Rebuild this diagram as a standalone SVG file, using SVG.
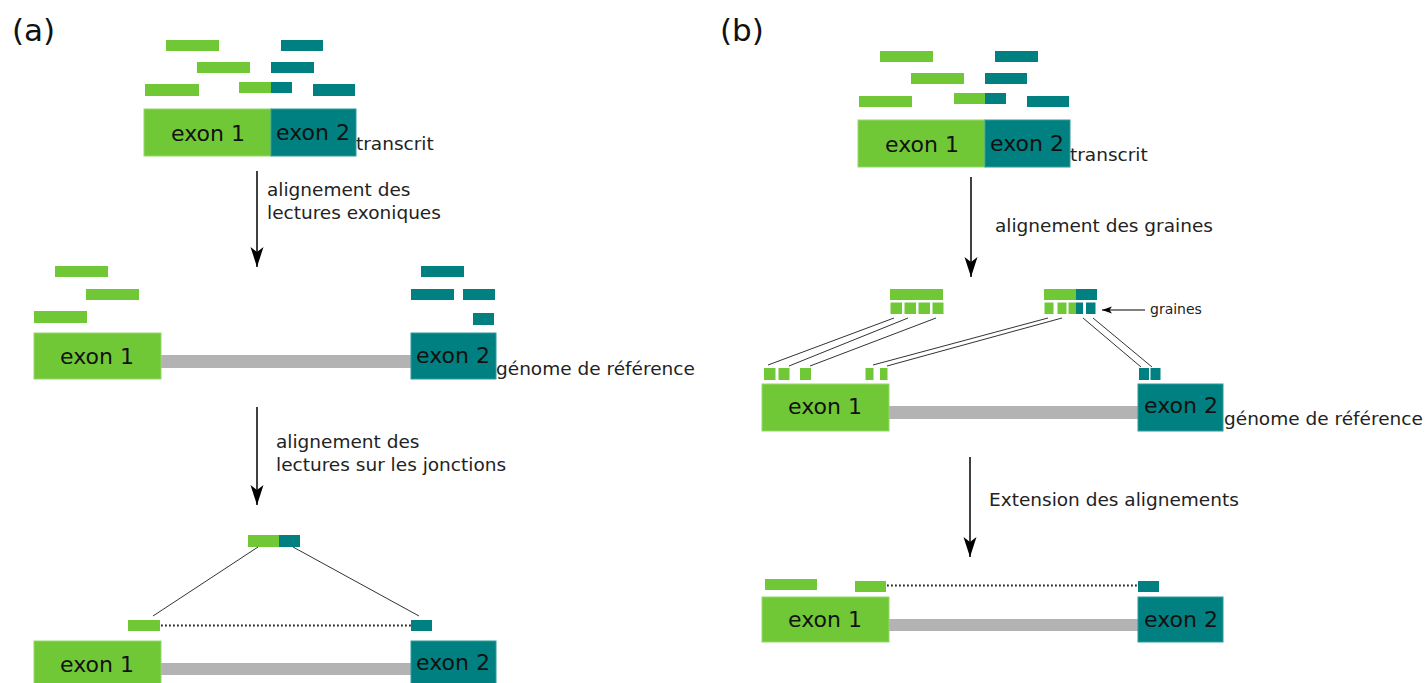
<svg xmlns="http://www.w3.org/2000/svg" width="1426" height="683" viewBox="0 0 1426 683">
<defs>
<style>
.g{fill:#71c837}
.t{fill:#008080}
.gb{fill:#71c837;stroke:#95d86a;stroke-width:1}
.tb{fill:#008080;stroke:#2f9a9a;stroke-width:1}
.bar{fill:#b3b3b3}
.ex{font-family:"DejaVu Sans",sans-serif;font-size:22px;fill:#111;text-anchor:middle}
.lb{font-family:"DejaVu Sans",sans-serif;font-size:18.5px;fill:#222}
.sm{font-family:"DejaVu Sans",sans-serif;font-size:14px;fill:#222}
.pl{font-family:"DejaVu Sans",sans-serif;font-size:31px;fill:#111}
.arr{stroke:#000;stroke-width:1.5;fill:none;marker-end:url(#ah)}
.ln{stroke:#333;stroke-width:1;fill:none}
.dot{stroke:#222;stroke-width:1.8;stroke-dasharray:1.8 2.2;fill:none}
</style>
<marker id="ah" markerUnits="userSpaceOnUse" markerWidth="24" markerHeight="16" viewBox="-21 -8 22 16" refX="0" refY="0" orient="auto">
<path d="M0,0 L-20,-6.5 L-15,0 L-20,6.5 Z" fill="#000"/>
</marker>
<marker id="ahs" markerUnits="userSpaceOnUse" markerWidth="12" markerHeight="10" viewBox="-11 -5 12 10" refX="0" refY="0" orient="auto">
<path d="M0,0 L-10,-3.5 L-7.5,0 L-10,3.5 Z" fill="#000"/>
</marker>
</defs>

<text class="pl" x="12" y="41">(a)</text>
<text class="pl" x="720" y="41">(b)</text>

<!-- Panel (a) -->
<g id="a-reads-top">
<rect class="g" x="166" y="40" width="53" height="11"/>
<rect class="t" x="281" y="40" width="42" height="11"/>
<rect class="g" x="197" y="62" width="53" height="11"/>
<rect class="t" x="271" y="62" width="43" height="11"/>
<rect class="g" x="145" y="84" width="54" height="12"/>
<rect class="g" x="239" y="82" width="32" height="11"/>
<rect class="t" x="271" y="82" width="21" height="11"/>
<rect class="t" x="313" y="84" width="42" height="12"/>
</g>
<g id="a-transcrit">
<rect class="gb" x="144" y="109" width="127" height="47"/>
<rect class="tb" x="271" y="109" width="85" height="47"/>
<text class="ex" x="208" y="141">exon 1</text>
<text class="ex" x="313" y="139.5">exon 2</text>
<text class="lb" x="356" y="150">transcrit</text>
</g>
<g id="a-label1">
<text class="lb" x="267" y="196">alignement des</text>
<text class="lb" x="267" y="219">lectures exoniques</text>
</g>
<g id="a-reads-mid">
<rect class="g" x="55" y="266" width="53" height="11"/>
<rect class="g" x="86" y="289" width="53" height="11"/>
<rect class="g" x="34" y="311" width="53" height="12"/>
<rect class="t" x="421" y="266" width="43" height="11"/>
<rect class="t" x="411" y="289" width="43" height="11"/>
<rect class="t" x="463" y="289" width="32" height="11"/>
<rect class="t" x="473" y="313" width="21" height="12"/>
</g>
<g id="a-genome">
<rect class="bar" x="161" y="355" width="250" height="13"/>
<rect class="gb" x="34" y="333" width="127" height="46"/>
<rect class="tb" x="411" y="333" width="85" height="46"/>
<text class="ex" x="97" y="364">exon 1</text>
<text class="ex" x="453" y="362.5">exon 2</text>
<text class="lb" x="496" y="375">génome de référence</text>
</g>
<g id="a-label2">
<text class="lb" x="276" y="448">alignement des</text>
<text class="lb" x="276" y="471">lectures sur les jonctions</text>
</g>
<g id="a-junction-read">
<rect class="g" x="248" y="535" width="31" height="12"/>
<rect class="t" x="279" y="535" width="21" height="12"/>
</g>
<g id="a-split-read">
<rect class="g" x="128" y="620" width="32" height="11"/>
<rect class="t" x="411" y="620" width="21" height="11"/>
</g>
<g id="a-genome2">
<rect class="bar" x="161" y="663" width="250" height="12"/>
<rect class="gb" x="34" y="641" width="127" height="46"/>
<rect class="tb" x="411" y="641" width="85" height="46"/>
<text class="ex" x="97" y="671.5">exon 1</text>
<text class="ex" x="453" y="670">exon 2</text>
</g>

<!-- Panel (b) -->
<g id="b-reads-top">
<rect class="g" x="880" y="51" width="53" height="11"/>
<rect class="t" x="995" y="51" width="43" height="11"/>
<rect class="g" x="911" y="73" width="53" height="11"/>
<rect class="t" x="985" y="73" width="42" height="11"/>
<rect class="g" x="859" y="96" width="53" height="11"/>
<rect class="g" x="954" y="93" width="31" height="11"/>
<rect class="t" x="985" y="93" width="21" height="11"/>
<rect class="t" x="1027" y="96" width="42" height="11"/>
</g>
<g id="b-transcrit">
<rect class="gb" x="858" y="120" width="127" height="47"/>
<rect class="tb" x="985" y="120" width="85" height="47"/>
<text class="ex" x="922" y="152">exon 1</text>
<text class="ex" x="1027" y="150.5">exon 2</text>
<text class="lb" x="1070" y="161">transcrit</text>
</g>
<g id="b-label1">
<text class="lb" x="995" y="232">alignement des graines</text>
</g>
<g id="b-read-left">
<rect class="g" x="890" y="289" width="53" height="11"/>
<rect class="g" x="890.5" y="302.5" width="11.5" height="11.5"/>
<rect class="g" x="904.5" y="302.5" width="11.5" height="11.5"/>
<rect class="g" x="918.5" y="302.5" width="11.5" height="11.5"/>
<rect class="g" x="932.5" y="302.5" width="11" height="11.5"/>
</g>
<g id="b-read-right">
<rect class="g" x="1044" y="289" width="32" height="11"/>
<rect class="t" x="1076" y="289" width="21" height="11"/>
<rect class="g" x="1044.5" y="302.5" width="9" height="11.5"/>
<rect class="g" x="1057.5" y="302.5" width="9" height="11.5"/>
<rect class="g" x="1068.5" y="302.5" width="7.5" height="11.5"/>
<rect class="t" x="1076" y="302.5" width="7" height="11.5"/>
<rect class="t" x="1086" y="302.5" width="9.5" height="11.5"/>
</g>
<g id="b-graines">
<line x1="1145" y1="310" x2="1102" y2="310" stroke="#000" stroke-width="1.2" marker-end="url(#ahs)"/>
<text class="sm" x="1150" y="314">graines</text>
</g>
<g id="b-seeds-genome">
<rect class="g" x="764" y="368" width="11.5" height="12"/>
<rect class="g" x="778.5" y="368" width="11" height="12"/>
<rect class="g" x="800" y="368" width="11" height="12"/>
<rect class="g" x="865.5" y="368" width="8" height="12"/>
<rect class="g" x="880" y="368" width="7.5" height="12"/>
<rect class="t" x="1139" y="368" width="10" height="12"/>
<rect class="t" x="1150.5" y="368" width="10" height="12"/>
</g>
<g id="b-genome">
<rect class="bar" x="889" y="406" width="249" height="13"/>
<rect class="gb" x="762" y="384" width="127" height="47"/>
<rect class="tb" x="1138" y="384" width="85" height="47"/>
<text class="ex" x="825" y="414">exon 1</text>
<text class="ex" x="1181" y="413">exon 2</text>
<text class="lb" x="1224" y="425">génome de référence</text>
</g>
<g id="b-label2">
<text class="lb" x="989" y="506">Extension des alignements</text>
</g>
<g id="b-extended">
<rect class="g" x="765" y="579" width="52" height="11"/>
<rect class="g" x="855" y="581" width="31" height="11"/>
<rect class="t" x="1138" y="581" width="21" height="11"/>
</g>
<g id="b-genome2">
<rect class="bar" x="889" y="619" width="249" height="12"/>
<rect class="gb" x="762" y="597" width="127" height="45"/>
<rect class="tb" x="1138" y="597" width="85" height="45"/>
<text class="ex" x="825" y="627">exon 1</text>
<text class="ex" x="1181" y="626.5">exon 2</text>
</g>

<g id="connectors">
<line class="arr" x1="257" y1="171" x2="257" y2="267"/>
<line class="arr" x1="257" y1="407" x2="257" y2="505"/>
<line class="arr" x1="971" y1="177" x2="971" y2="277"/>
<line class="arr" x1="970" y1="457" x2="970" y2="557"/>
<line class="ln" x1="258" y1="547" x2="153" y2="616"/>
<line class="ln" x1="293" y1="547" x2="419" y2="616"/>
<line class="dot" x1="161" y1="625.5" x2="411" y2="625.5"/>
<line class="dot" x1="887" y1="585.5" x2="1138" y2="585.5"/>
<line class="ln" x1="894" y1="318" x2="768" y2="365"/>
<line class="ln" x1="908" y1="318" x2="789" y2="366"/>
<line class="ln" x1="936" y1="318" x2="810" y2="366"/>
<line class="ln" x1="1048" y1="318" x2="873" y2="365"/>
<line class="ln" x1="1062" y1="318" x2="887" y2="366"/>
<line class="ln" x1="1083" y1="318" x2="1141" y2="367"/>
<line class="ln" x1="1093" y1="318" x2="1152" y2="367"/>
</g>
</svg>
